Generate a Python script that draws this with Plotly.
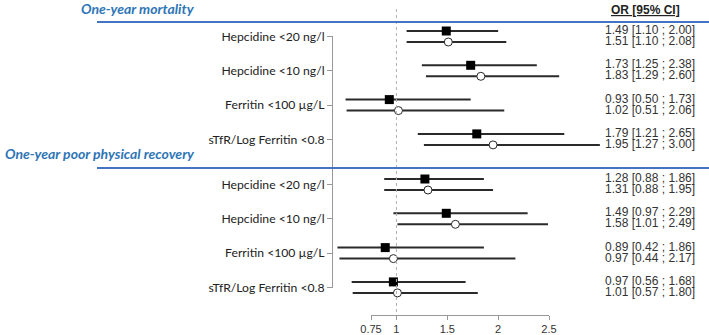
import plotly.graph_objects as go

# ---------------- data ----------------
groups = ["One-year mortality", "One-year poor physical recovery"]
labels = ["Hepcidine <20 ng/l", "Hepcidine <10 ng/l", "Ferritin <100 µg/L", "sTfR/Log Ferritin <0.8"]

# model 1 (filled squares)
or1 = [[1.49, 1.73, 0.93, 1.79], [1.28, 1.49, 0.89, 0.97]]
lo1 = [[1.10, 1.25, 0.50, 1.21], [0.88, 0.97, 0.42, 0.56]]
hi1 = [[2.00, 2.38, 1.73, 2.65], [1.86, 2.29, 1.86, 1.68]]
# model 2 (open circles)
or2 = [[1.51, 1.83, 1.02, 1.95], [1.31, 1.58, 0.97, 1.01]]
lo2 = [[1.10, 1.29, 0.51, 1.27], [0.88, 1.01, 0.44, 0.57]]
hi2 = [[2.08, 2.60, 2.06, 3.00], [1.95, 2.49, 2.17, 1.80]]

x_ticks = [0.75, 1, 1.5, 2, 2.5]
x_ticktext = ["0.75", "1", "1.5", "2", "2.5"]

# ---------------- layout constants (pixels) ----------------
W, H = 709, 335
PX_LO, PX_HI = 371, 549          # pixel positions of 0.75 and 2.5
K = (PX_HI - PX_LO) / (x_ticks[-1] - x_ticks[0])


def px_to_x(p):
    return x_ticks[0] + (p - PX_LO) / K


GROUP_TOP = [36.5, 184.5]
STEP = 34.3
OFF = 5.5
AXIS_Y = 315
Y_AXIS_X = 332
TEXT_PX = 605
BLUE = "#4472C4"
HEAD = "#2E75B6"
DARK = "#2a2a2a"

fig = go.Figure()

rows_y = []
for g in range(len(groups)):
    for i in range(len(labels)):
        rows_y.append(GROUP_TOP[g] + i * STEP)


def build(ors, los, his, off):
    lx, ly, mx, my, tx = [], [], [], [], []
    k = 0
    for g in range(len(groups)):
        for i in range(len(labels)):
            yc = rows_y[k] + off
            lx += [los[g][i], his[g][i], None]
            ly += [yc, yc, None]
            mx.append(ors[g][i])
            my.append(yc)
            tx.append(f"{ors[g][i]:.2f} [{los[g][i]:.2f} ; {his[g][i]:.2f}]")
            k += 1
    return lx, ly, mx, my, tx


# dummy trace for the tick axes (drawn first)
fig.add_trace(go.Scatter(x=[1], y=[rows_y[0]], xaxis="x2", yaxis="y2", mode="markers",
                         marker=dict(opacity=0), hoverinfo="skip", showlegend=False))

for ors, los, his, off, sym in [(or1, lo1, hi1, -OFF, "square"), (or2, lo2, hi2, OFF, "circle")]:
    lx, ly, mx, my, tx = build(ors, los, his, off)
    fig.add_trace(go.Scatter(x=lx, y=ly, mode="lines", line=dict(color=DARK, width=2),
                             hoverinfo="skip", showlegend=False))
    if sym == "square":
        mk = dict(symbol="square", size=9, color="black", line=dict(width=0))
    else:
        mk = dict(symbol="circle", size=8, color="white", line=dict(color=DARK, width=1))
    fig.add_trace(go.Scatter(x=mx, y=my, mode="markers", marker=mk,
                             hoverinfo="skip", showlegend=False))
    # right-hand text column
    fig.add_trace(go.Scatter(x=[px_to_x(TEXT_PX)] * len(tx), y=my, mode="text", text=tx,
                             textposition="middle right", cliponaxis=False,
                             textfont=dict(family="Liberation Sans", size=12, color="#333"),
                             hoverinfo="skip", showlegend=False))

# reference dotted line at OR = 1
fig.add_shape(type="line", x0=1, x1=1, xref="x", y0=9, y1=AXIS_Y - 2, yref="y",
              line=dict(color="#b0b0b0", width=1, dash="dot"))

# blue separators and headers
for g, ypos in enumerate([22, 168]):
    fig.add_shape(type="line", x0=97 / W, x1=1, xref="paper", y0=ypos, y1=ypos, yref="y",
                  line=dict(color=BLUE, width=2))
for g, ypos in enumerate([8, 153]):
    fig.add_annotation(x=197 / W, xref="paper", xanchor="right", y=ypos, yref="y",
                       text=f"<b><i>{groups[g]}</i></b>", showarrow=False,
                       font=dict(family="Lato", size=14, color=HEAD))

fig.add_annotation(x=645 / W, xref="paper", xanchor="center", y=10, yref="y",
                   text="<b><u>OR [95% CI]</u></b>", showarrow=False,
                   font=dict(family="Liberation Sans", size=12, color="#222"))

fig.update_layout(
    width=W, height=H, margin=dict(l=0, r=0, t=0, b=0, autoexpand=False),
    paper_bgcolor="white", plot_bgcolor="rgba(0,0,0,0)", showlegend=False,
    xaxis=dict(range=[px_to_x(0), px_to_x(W)], visible=False, fixedrange=True),
    yaxis=dict(range=[H, 0], visible=False, fixedrange=True),
    xaxis2=dict(domain=[PX_LO / W, PX_HI / W], range=[x_ticks[0], x_ticks[-1]],
                anchor="free", position=1 - AXIS_Y / H, showline=True, linecolor="#999", linewidth=1,
                ticks="outside", ticklen=4, tickcolor="#999", tickvals=x_ticks, ticktext=x_ticktext,
                showgrid=False, zeroline=False, automargin=False, fixedrange=True,
                tickfont=dict(family="Liberation Sans", size=11, color="#333")),
    yaxis2=dict(domain=[1 - 287.5 / H, 1 - 35.5 / H], range=[287.5, 35.5],
                anchor="free", position=Y_AXIS_X / W, showline=True, linecolor="#999", linewidth=1,
                ticks="outside", ticklen=5, tickcolor="#999", tickvals=rows_y,
                ticktext=labels * len(groups), showgrid=False, zeroline=False, automargin=False,
                fixedrange=True, tickfont=dict(family="Lato", size=12.2, color="#222")),
)

fig.write_html("out.html", config={"displayModeBar": False},
               post_script="document.body.style.margin='0';document.body.style.overflow='hidden';")
